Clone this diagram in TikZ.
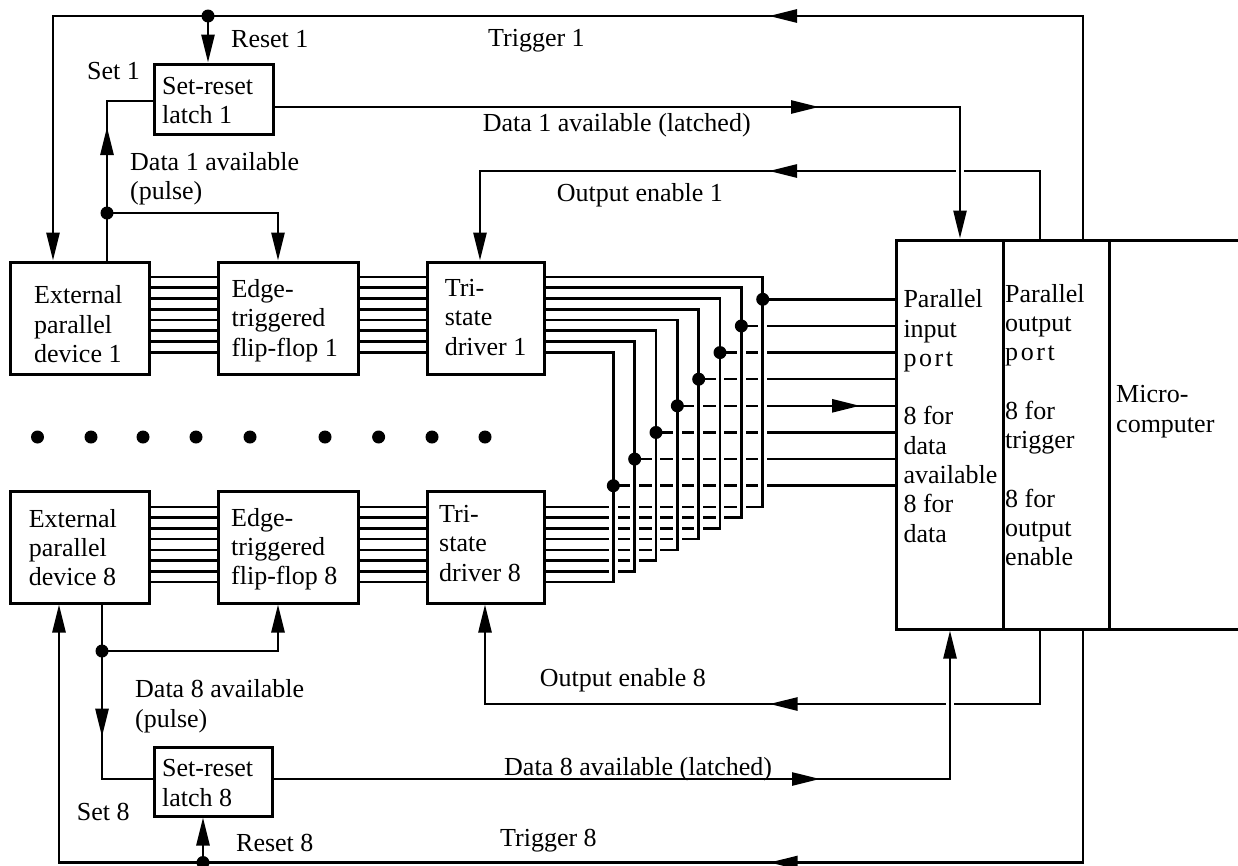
\documentclass[tikz,border=0pt]{standalone}
\usepackage{fontspec}
\setmainfont{Liberation Serif}
\usetikzlibrary{arrows.meta,decorations.markings,calc}
\newcommand\spc{\kern2.6pt}
\begin{document}
\begin{tikzpicture}[x=1pt,y=-1pt,
  >={Triangle[length=28pt,width=13pt]},
  wire/.style={line width=2.6pt},
  halo/.style={draw=white,line width=8.5pt},
  box/.style={draw,line width=3pt,inner sep=0pt},
  txt/.style={inner sep=0pt,anchor=north west,align=left,font=\fontsize{26}{29.3}\selectfont},
  lab/.style={inner sep=0pt,anchor=base west,font=\fontsize{26}{29.3}\selectfont},
  jdot/.style={circle,fill,inner sep=0pt,minimum size=13pt},
  midarrow/.style={postaction={decorate},decoration={markings,mark=at position #1pt with {\arrow{>}}}}]
\useasboundingbox (0,0) rectangle (1238,865);

% boxes
\node[box,minimum width=119pt,minimum height=70pt] (lat1) at (213.5,99) {};
\node[box,minimum width=139pt,minimum height=112pt] (ext1) at (79.5,318) {};
\node[box,minimum width=139.4pt,minimum height=112pt] (ff1) at (288.3,318) {};
\node[box,minimum width=117.6pt,minimum height=112pt] (tri1) at (485.8,318) {};
\node[box,minimum width=139pt,minimum height=112pt] (ext8) at (79.5,547) {};
\node[box,minimum width=139.4pt,minimum height=112pt] (ff8) at (288.3,547) {};
\node[box,minimum width=117.6pt,minimum height=112pt] (tri8) at (485.8,547) {};
\node[box,minimum width=118pt,minimum height=69pt] (lat8) at (213,781.5) {};
\node[box,minimum width=107pt,minimum height=389pt] (inp) at (949.5,434.5) {};
\node[box,minimum width=106pt,minimum height=389pt] (outp) at (1056,434.5) {};
\node[box,minimum width=150pt,minimum height=389pt] (micro) at (1184,434.5) {};

% box texts
\node[txt] (ext1t) at (34,285.5) {External\\parallel\\device 1};
\node[txt] (ff1t) at (231.4,279.2) {Edge-\\triggered\\flip-flop 1};
\node[txt] (tri1t) at (444.6,279.2) {Tri-\\state\\driver 1};
\node[txt] (ext8t) at (28.6,509) {External\\parallel\\device 8};
\node[txt] (ff8t) at (231,508) {Edge-\\triggered\\flip-flop 8};
\node[txt] (tri8t) at (439,505) {Tri-\\state\\driver 8};
\node[txt] (lat1t) at (162,77.2) {Set-reset\\latch 1};
\node[txt] (lat8t) at (162,759.5) {Set-reset\\latch 8};
\node[txt] (inpt) at (903.3,289.5) {Parallel\\input\\p\spc o\spc r\spc t\\[29.3pt]8 for\\data\\available\\8 for\\data};
\node[txt] (outpt) at (1005,284) {Parallel\\output\\p\spc o\spc r\spc t\\[29.3pt]8 for\\trigger\\[29.3pt]8 for\\output\\enable};
\node[txt] (microt) at (1116,385.5) {Micro-\\computer};

% labels
\node[lab] (lr1) at (231,47) {Reset 1};
\node[lab] (ls1) at (87,79) {Set 1};
\node[lab] (lt1) at (488,46.7) {Trigger 1};
\node[lab] (ld1l) at (482.6,131.7) {Data 1 available (latched)};
\node[txt] (ld1p) at (130,152.2) {Data 1 available\\(pulse)};
\node[lab] (loe1) at (556.7,201.7) {Output enable 1};
\node[lab] (loe8) at (539.7,686.7) {Output enable 8};
\node[txt] (ld8p) at (135,679.5) {Data 8 available\\(pulse)};
\node[lab] (ld8l) at (504,775) {Data 8 available (latched)};
\node[lab] (ls8) at (76.7,820) {Set 8};
\node[lab] (lr8) at (236,851.7) {Reset 8};
\node[lab] (lt8) at (500,846.7) {Trigger 8};

% trigger 1 and reset 1
\coordinate (t1r) at (1083,16);
\coordinate (t1l) at (53,16);
\node[jdot] (jR1) at (208,16) {};
\draw[wire,->,midarrow=536.5] (outp.north -| t1r) -- (t1r) -- (t1l) -- (ext1.north -| t1l);
\draw[wire,->] (jR1.center) -- (lat1.north -| jR1);

% set 1 / data 1 pulse
\node[jdot] (jS1) at (107,213) {};
\coordinate (s1) at (lat1.west |- 0,101);
\coordinate (ffx) at (278,0);
\draw[wire,midarrow=86] (jS1.center) -- (jS1 |- s1) -- (s1);
\draw[wire] (ext1.north -| jS1) -- (jS1.center);
\draw[wire,->] (jS1.center) -- (jS1 -| ffx) -- (ff1.north -| ffx);

% output enable 1 and data 1 latched
\coordinate (oe1a) at (1040,171);
\coordinate (oe1b) at (480,171);
\draw[wire,->,midarrow=338.5] (outp.north -| oe1a) -- (oe1a) -- (oe1b) -- (tri1.north -| oe1b);
\coordinate (d1a) at (lat1.east |- 0,107);
\coordinate (d1c) at (960,107);
\draw[halo] (d1c) -- ($(inp.north -| d1c)+(0,-4)$);
\draw[wire,->,midarrow=544.5] (d1a) -- (d1c) -- (inp.north -| d1c);

% buses between boxes
\foreach \k in {0,...,7} {
  \pgfmathsetmacro\ya{277+10.75*\k}
  \pgfmathsetmacro\yb{507+10.7*\k}
  \draw[wire] (ext1.east |- 0,\ya) -- (ff1.west |- 0,\ya);
  \draw[wire] (ff1.east |- 0,\ya) -- (tri1.west |- 0,\ya);
  \draw[wire] (ext8.east |- 0,\yb) -- (ff8.west |- 0,\yb);
  \draw[wire] (ff8.east |- 0,\yb) -- (tri8.west |- 0,\yb);
}

% crossing bus to input port
\foreach \k in {0,...,7} {
  \pgfmathsetmacro\xv{762.7-21.34*\k}
  \pgfmathsetmacro\yt{277+10.75*\k}
  \pgfmathsetmacro\yb{507+10.7*\k}
  \pgfmathsetmacro\yp{299.3+26.63*\k}
  \coordinate (vt\k) at (\xv,\yt);
  \coordinate (vb\k) at (\xv,\yb);
  \coordinate (vp\k) at (\xv,\yp);
}
\foreach \k in {0,...,7} {
  \draw[wire] (vp\k) -- (inp.west |- vp\k);
  \draw[wire] (tri8.east |- vb\k) -- (vb\k);
}
\foreach \k in {0,...,7} \draw[halo] (vt\k) -- (vb\k);
\foreach \k in {0,...,7} {
  \draw[wire] (tri1.east |- vt\k) -- (vt\k) -- (vb\k) -- ($(vb\k)+(-9,0)$);
  \node[jdot] (jp\k) at (vp\k) {};
}
\draw[wire,->] ($(vp4)+(150,0)$) -- ($(vp4)+(182.7,0)$);

% output enable 8 and data 8 latched
\coordinate (oe8a) at (1040,704);
\coordinate (oe8b) at (485,704);
\draw[wire,->,midarrow=344] (outp.south -| oe8a) -- (oe8a) -- (oe8b) -- (tri8.south -| oe8b);
\coordinate (d8a) at (lat8.east |- 0,779);
\coordinate (d8c) at (950,779);
\draw[halo] (d8c) -- ($(inp.south -| d8c)+(0,4)$);
\draw[wire,->,midarrow=546.5] (d8a) -- (d8c) -- (inp.south -| d8c);

% trigger 8 and reset 8
\coordinate (t8r) at (1083,862.5);
\coordinate (t8l) at (59,862.5);
\draw[wire,->,midarrow=545.5] (outp.south -| t8r) -- (t8r) -- (t8l) -- (ext8.south -| t8l);
\node[jdot] (jR8) at (203,862.5) {};
\draw[wire,->] (jR8.center) -- (lat8.south -| jR8);

% data 8 pulse / set 8
\node[jdot] (jS8) at (102,651) {};
\coordinate (s8) at (lat8.west |- 0,779);
\draw[wire] (ext8.south -| jS8) -- (jS8.center);
\draw[wire,->] (jS8.center) -- (jS8 -| ffx) -- (ff8.south -| ffx);
\draw[wire,midarrow=85.7] (jS8.center) -- (jS8 |- s8) -- (s8);

% ellipsis dots
\foreach \x in {37.5,91,143,196,250,325,378.6,432,485} \fill (\x,437) circle (6.5pt);
\end{tikzpicture}
\end{document}
